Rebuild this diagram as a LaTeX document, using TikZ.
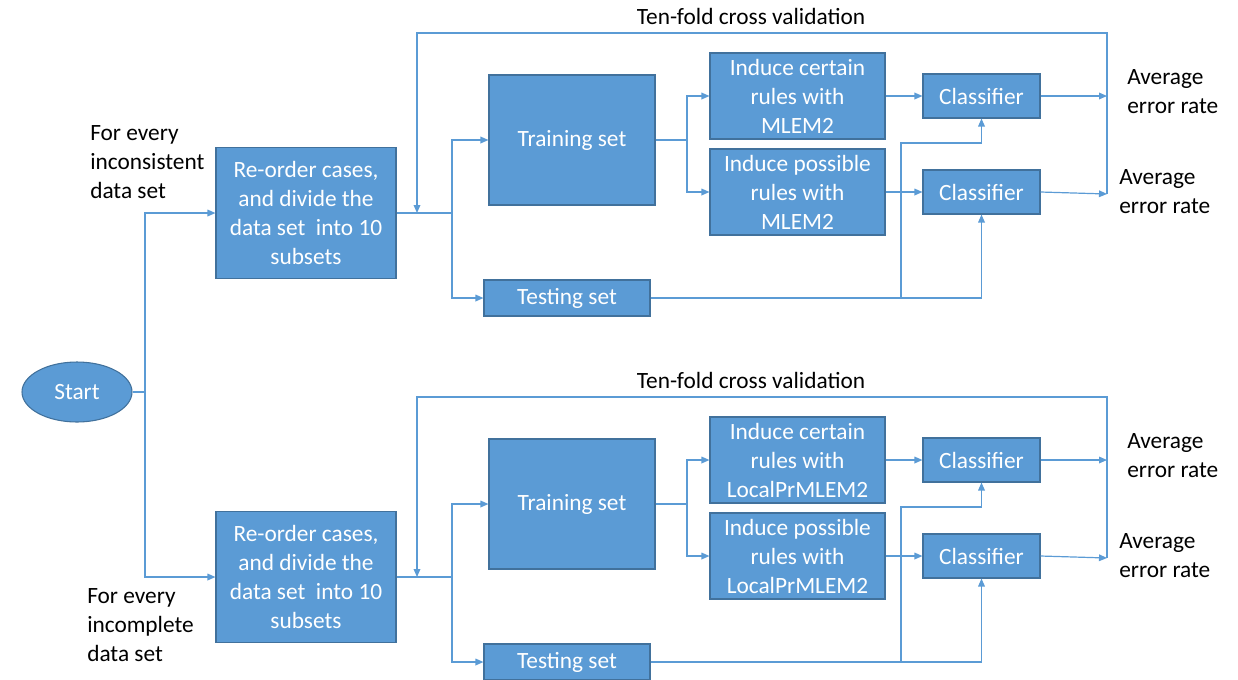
\documentclass[tikz,border=0pt]{standalone}
\usepackage{fontspec}
\setmainfont{Carlito}
\usetikzlibrary{arrows.meta,shapes.geometric}
\definecolor{boxblue}{HTML}{5B9BD5}
\definecolor{boxedge}{HTML}{41719C}
\definecolor{linblue}{HTML}{5B9BD5}
\tikzset{
  txtfont/.style={font=\fontsize{17.5}{21.75}\selectfont},
  blk/.style={draw=boxedge, line width=0.8pt, fill=boxblue, text=white, align=center, inner sep=0pt, txtfont},
  lbl/.style={text=black, inner sep=0pt, txtfont},
  conn/.style={draw=linblue, line width=0.9pt},
  arr/.style={conn, -{Triangle[length=6pt,width=5pt]}},
}
\newcommand\flowpart[3]{%
\begin{scope}[shift={(0,#2)}]
  \node[blk, minimum width=135pt, minimum height=98.25pt] (#1re) at (306,213) {Re-order cases,\\ and divide the\\ data set~ into 10\\ subsets};
  \node[blk, minimum width=124.5pt, minimum height=97.5pt] (#1tr) at (572,140) {Training set};
  \node[blk, minimum width=124.5pt, minimum height=27pt] (#1te) at (567,298) {Testing set};
  \node[blk, minimum width=131.25pt, minimum height=64.5pt] (#1ic) at (797.5,96) {Induce certain\\ rules with\\ #3};
  \node[blk, minimum width=131.25pt, minimum height=64.5pt] (#1ip) at (797.5,192) {Induce possible\\ rules with\\ #3};
  \node[blk, minimum width=87.75pt, minimum height=33pt] (#1c1) at (981.5,96) {Classifier};
  \node[blk, minimum width=87.75pt, minimum height=33pt] (#1c2) at (981.5,192) {Classifier};
  \node[lbl, align=left, anchor=west] (#1a1) at (1127,92) {Average\\ error rate};
  \node[lbl, align=left, anchor=west] (#1a2) at (1119,192) {Average\\ error rate};
  \node[lbl] (#1cv) at (751,16) {Ten-fold cross validation};
  \coordinate (#1j1) at (452,213);
  \coordinate (#1j2) at (687,140);
  \coordinate (#1j3) at (901,298);
  \coordinate (#1j4) at (901,143);
  \coordinate (#1o1) at (1107,96);
  \coordinate (#1o2) at (1107,194);
  \coordinate (#1tp) at (1107,33);
  \coordinate (#1lp) at (417,213);
  \draw[conn] (#1re.east) -- (#1j1);
  \draw[arr] (#1j1) |- (#1tr.west);
  \draw[arr] (#1j1) |- (#1te.west);
  \draw[conn] (#1tr.east) -- (#1j2);
  \draw[arr] (#1j2) |- (#1ic.west);
  \draw[arr] (#1j2) |- (#1ip.west);
  \draw[arr] (#1ic.east) -- (#1c1.west);
  \draw[arr] (#1ip.east) -- (#1c2.west);
  \draw[arr] (#1te.east) -| (#1c2.south);
  \draw[arr] (#1j3) -- (#1j4) -| (#1c1.south);
  \draw[arr] (#1c1.east) -- (#1o1);
  \draw[arr] (#1c2.east) -- (#1o2);
  \draw[arr] (#1o2) -- (#1tp) -| (#1lp);
\end{scope}}
\begin{document}
\begin{tikzpicture}[x=0.75pt,y=-0.75pt]
  \useasboundingbox (0,0) rectangle (1238,679);
  \node[blk, ellipse, minimum width=82.5pt, minimum height=45pt] (start) at (77,392) {Start};
  \flowpart{t}{0}{MLEM2}
  \flowpart{b}{364}{LocalPrMLEM2}
  \node[lbl, align=left, anchor=west] (lt) at (90,162) {For every\\ inconsistent\\ data set};
  \node[lbl, align=left, anchor=west] (lb) at (87,625) {For every\\ incomplete\\ data set};
  \coordinate (sj) at (145,392);
  \draw[conn] (start.east) -- (sj);
  \draw[arr] (sj) |- (tre.west);
  \draw[arr] (sj) |- (bre.west);
\end{tikzpicture}
\end{document}
